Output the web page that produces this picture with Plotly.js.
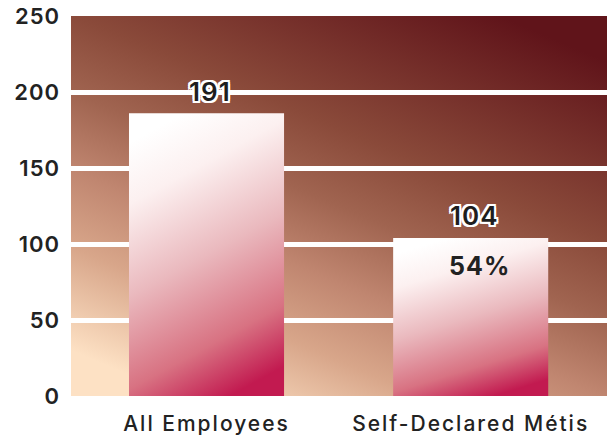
<!DOCTYPE html>
<html><head><meta charset="utf-8">
<script src="https://cdn.plot.ly/plotly-3.0.1.min.js"></script>
<style>html,body{margin:0;padding:0;background:#fff;}#chart{width:607px;height:439px;}
.xtick text{letter-spacing:2px;}
.ytick text{letter-spacing:1px;}
.annotation-text{letter-spacing:1px;}
</style>
</head><body><div id="chart"></div>
<script>
const categories = ["All Employees", "Self-Declared Métis"];
const barValues = [186, 104];
const valueLabels = ["191", "104"];
const shareLabel = "54%";
const yTicks = [0, 50, 100, 150, 200, 250];

const FONT = "Inter, sans-serif";
const outline = "-2px -2px 0 #fff, 2px -2px 0 #fff, -2px 2px 0 #fff, 2px 2px 0 #fff, 0 -2px 0 #fff, 0 2px 0 #fff, -2px 0 0 #fff, 2px 0 0 #fff";

const trace = {
  type: 'bar', x: categories, y: barValues, width: 0.587,
  marker: {color: '#e8a0ac', line: {width: 0}}, hoverinfo: 'none'
};

const annotations = categories.map((c, i) => ({
  x: c, y: barValues[i], xref: 'x', yref: 'y', text: valueLabels[i],
  showarrow: false, yshift: 22, xshift: 3,
  font: {family: FONT, size: 26, color: '#1e1e1e', weight: 600, shadow: outline}
}));
annotations.push({
  x: categories[1], y: barValues[1], xref: 'x', yref: 'y', text: shareLabel,
  showarrow: false, yshift: -28, xshift: 9,
  font: {family: FONT, size: 25, color: '#222', weight: 700}
});

const layout = {
  width: 607, height: 439,
  margin: {l: 71, r: 0, t: 16, b: 43, pad: 0},
  paper_bgcolor: '#fff', plot_bgcolor: '#a86c56',
  showlegend: false,
  xaxis: {
    type: 'category', range: [-0.513, 1.516], showgrid: false, zeroline: false,
    showline: false, ticks: '', ticklabelstandoff: 13,
    tickfont: {family: FONT, size: 21, color: '#222', weight: 500}
  },
  yaxis: {
    range: [0, 250], tickvals: yTicks, ticktext: yTicks.map(String),
    showgrid: true, gridcolor: '#ffffff', gridwidth: 5, zeroline: false,
    showline: false, ticks: '', ticklabelstandoff: 10,
    tickfont: {family: FONT, size: 22, color: '#222', weight: 600}
  },
  annotations: annotations
};

Plotly.newPlot('chart', [trace], layout, {staticPlot: true}).then(gd => {
  const NS = 'http://www.w3.org/2000/svg';
  const svg = gd.querySelector('.main-svg');
  let defs = svg.querySelector('defs');
  if (!defs) { defs = document.createElementNS(NS, 'defs'); svg.insertBefore(defs, svg.firstChild); }
  function grad(id, x1, y1, x2, y2, stops) {
    const g = document.createElementNS(NS, 'linearGradient');
    g.setAttribute('id', id);
    g.setAttribute('x1', x1); g.setAttribute('y1', y1);
    g.setAttribute('x2', x2); g.setAttribute('y2', y2);
    stops.forEach(([o, c]) => {
      const s = document.createElementNS(NS, 'stop');
      s.setAttribute('offset', o); s.setAttribute('stop-color', c);
      g.appendChild(s);
    });
    defs.appendChild(g);
  }
  grad('bgGrad', 0.2, 1, 0.8, 0, [[0, '#fde1c4'], [0.2, '#d8a68a'], [0.35, '#c08670'], [0.5, '#a06450'], [0.65, '#8a4a3a'], [1, '#60141a']]);
  grad('barGrad', 0.35, 0, 0.65, 1, [[0, '#ffffff'], [0.2, '#fcf0f0'], [0.5, '#eab9be'], [0.8, '#d87282'], [1, '#c21a50']]);
  gd.querySelectorAll('rect.bg').forEach(r => { r.style.fill = 'url(#bgGrad)'; });
  gd.querySelectorAll('.barlayer .point path').forEach(p => { p.style.fill = 'url(#barGrad)'; });
});
</script>
</body></html>
